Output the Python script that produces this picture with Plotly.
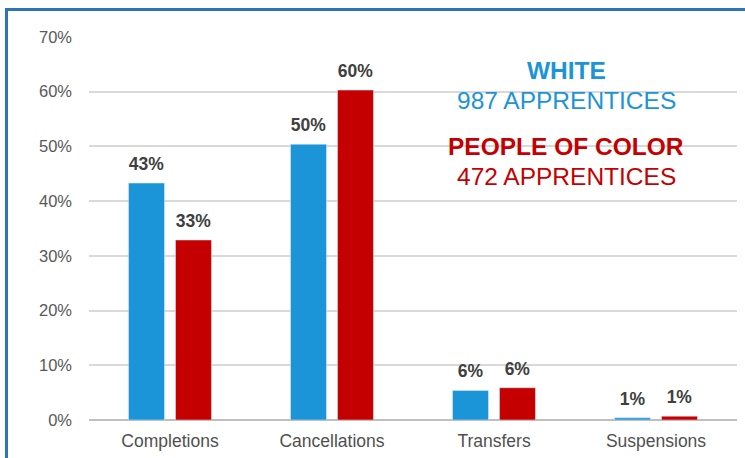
import plotly.graph_objects as go

categories = ["Completions", "Cancellations", "Transfers", "Suspensions"]
white_values = [43.3, 50.4, 5.4, 0.4]
poc_values = [32.9, 60.3, 5.9, 0.7]
white_labels = ["43%", "50%", "6%", "1%"]
poc_labels = ["33%", "60%", "6%", "1%"]
y_ticks = [0, 10, 20, 30, 40, 50, 60, 70]
y_tick_labels = ["0%", "10%", "20%", "30%", "40%", "50%", "60%", "70%"]

BLUE = "#1C94D8"
RED = "#C50000"
W, H = 745, 458
L, R, T, B = 89, 8, 37, 38
pw, ph = W - L - R, H - T - B

def px_x(p):
    return (p - L) / pw

def px_y(p):
    return (H - B - p) / ph

TPL = "<span style='font-size:17.5px'><b>%{text}</b></span><br> "
LABEL_FONT = dict(size=7, color="#404040", family="Liberation Sans")

fig = go.Figure()
fig.add_trace(go.Bar(x=categories, y=white_values, text=white_labels, name="White",
                     marker_color=BLUE, textposition="outside", cliponaxis=False,
                     constraintext="none", texttemplate=TPL, textfont=LABEL_FONT))
fig.add_trace(go.Bar(x=categories, y=poc_values, text=poc_labels, name="People of Color",
                     marker_color=RED, textposition="outside", cliponaxis=False,
                     constraintext="none", texttemplate=TPL, textfont=LABEL_FONT))

fig.update_layout(
    width=W, height=H,
    margin=dict(l=L, r=R, t=T, b=B),
    paper_bgcolor="white", plot_bgcolor="white",
    barmode="group", bargap=0.42, bargroupgap=0.234,
    showlegend=False,
    font=dict(family="Liberation Sans", color="#595959"),
    xaxis=dict(showgrid=False, showline=False, ticks="", ticklabelstandoff=8,
               tickfont=dict(size=17.5, color="#505050")),
    yaxis=dict(range=[0, 70], tickvals=y_ticks, ticktext=y_tick_labels,
               showgrid=True, gridcolor="#D9D9D9", gridwidth=1.5,
               zeroline=True, zerolinecolor="#BFBFBF", zerolinewidth=1.5,
               tickfont=dict(size=16.5, color="#595959"), ticklabelstandoff=16),
)

# frame border (blue) partially visible
fig.add_shape(type="rect", xref="paper", yref="paper",
              x0=px_x(6.5), x1=px_x(800), y0=px_y(9.5), y1=px_y(520),
              line=dict(color="#2E75B6", width=3), fillcolor="rgba(0,0,0,0)", layer="above")

ann = [
    ("<b>WHITE</b>", 70, BLUE),
    ("987 APPRENTICES", 100, BLUE),
    ("<b>PEOPLE OF COLOR</b>", 146, RED),
    ("472 APPRENTICES", 176, RED),
]
for txt, py, col in ann:
    fig.add_annotation(text=txt, xref="paper", yref="paper", x=px_x(566), y=px_y(py),
                       showarrow=False, xanchor="center", yanchor="middle",
                       font=dict(size=24.5, color=col, family="Liberation Sans"))

fig.write_html("out.html", config={"displayModeBar": False},
               post_script="document.body.style.margin='0';document.body.style.overflow='hidden';")
